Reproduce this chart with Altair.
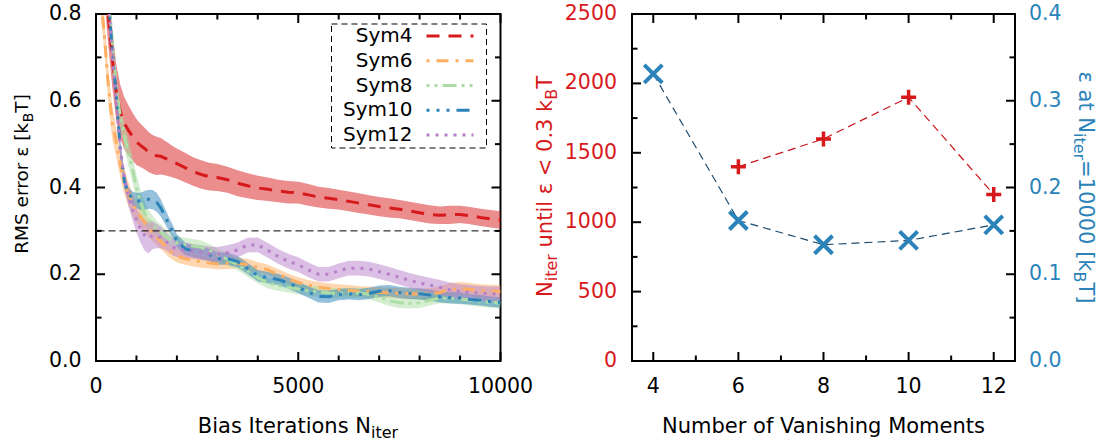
import altair as alt
import pandas as pd

FONT = "DejaVu Sans"
RED = "#d7191c"
BLUE = "#2b83ba"

# ---------------- data ----------------
names = ["Sym4", "Sym6", "Sym8", "Sym10", "Sym12"]
colors = ["#d7191c", "#fdae61", "#abdda4", "#2b83ba", "#b87fc9"]
dashes = [[13, 9], [3, 7, 12, 7], [3, 5, 3, 5, 14, 5], [3, 7, 3, 7, 3, 7, 13, 7], [3, 6]]

XS = [0, 100, 200, 300, 400, 500, 600, 700, 800, 900,
      1000, 1100, 1200, 1300, 1400, 1500, 1600, 1700, 1800, 1900,
      2000, 2200, 2400, 2600, 2800,
      3000, 3250, 3500, 3750,
      4000, 4250, 4500, 4750,
      5000, 5250, 5500, 5750,
      6000, 6250, 6500, 6750,
      7000, 7250, 7500, 7750,
      8000, 8250, 8500, 8750,
      9000, 9250, 9500, 9750,
      10000]

SYM4 = [1.20, 1.05, 0.92, 0.80, 0.70, 0.62, 0.575, 0.548, 0.532, 0.518,
        0.505, 0.497, 0.490, 0.482, 0.476, 0.473, 0.472, 0.468, 0.464, 0.459,
        0.455, 0.446, 0.437, 0.430, 0.425,
        0.423, 0.418, 0.410, 0.404,
        0.399, 0.396, 0.392, 0.389,
        0.388, 0.383, 0.378, 0.375,
        0.372, 0.368, 0.364, 0.360,
        0.356, 0.353, 0.350, 0.346,
        0.342, 0.338, 0.336, 0.337,
        0.338, 0.335, 0.331, 0.328,
        0.325]
SYM4_HW = [0.08, 0.08, 0.075, 0.07, 0.068, 0.065, 0.062, 0.06, 0.058, 0.055,
           0.053, 0.05, 0.048, 0.046, 0.045, 0.044, 0.042, 0.04, 0.038, 0.036,
           0.035, 0.034, 0.033, 0.033, 0.032,
           0.031, 0.03, 0.03, 0.029,
           0.028, 0.027, 0.026, 0.026,
           0.025, 0.025, 0.024, 0.024,
           0.023, 0.023, 0.023, 0.022,
           0.022, 0.022, 0.021, 0.021,
           0.021, 0.021, 0.02, 0.021,
           0.02, 0.02, 0.02, 0.02,
           0.02]

SYM6 = [0.95, 0.85, 0.76, 0.64, 0.55, 0.505, 0.455, 0.415, 0.385, 0.362,
        0.345, 0.332, 0.320, 0.307, 0.297, 0.286, 0.276, 0.266, 0.256, 0.248,
        0.242, 0.236, 0.232, 0.229, 0.226,
        0.224, 0.225, 0.226, 0.222,
        0.216, 0.210, 0.200, 0.190,
        0.181, 0.175, 0.170, 0.167,
        0.165, 0.163, 0.161, 0.160,
        0.158, 0.157, 0.156, 0.155,
        0.154, 0.155, 0.158, 0.165,
        0.167, 0.165, 0.162, 0.161,
        0.160]
SYM6_HW = [0.04, 0.04, 0.04, 0.04, 0.038, 0.035, 0.032, 0.03, 0.028, 0.026,
           0.025, 0.023, 0.022, 0.021, 0.02, 0.019, 0.018, 0.017, 0.016, 0.015,
           0.015, 0.014, 0.014, 0.014, 0.013,
           0.013, 0.013, 0.013, 0.013,
           0.012, 0.012, 0.012, 0.012,
           0.012, 0.012, 0.012, 0.012,
           0.012, 0.012, 0.012, 0.012,
           0.012, 0.012, 0.012, 0.012,
           0.012, 0.013, 0.014, 0.015,
           0.015, 0.015, 0.015, 0.015,
           0.015]

SYM8 = [1.20, 1.10, 0.98, 0.86, 0.74, 0.63, 0.565, 0.52, 0.48, 0.443,
        0.400, 0.366, 0.342, 0.326, 0.315, 0.305, 0.298, 0.290, 0.282, 0.276,
        0.272, 0.268, 0.265, 0.262, 0.255,
        0.246, 0.234, 0.222, 0.207,
        0.192, 0.180, 0.174, 0.170,
        0.166, 0.162, 0.160, 0.157,
        0.156, 0.157, 0.157, 0.154,
        0.147, 0.139, 0.134, 0.133,
        0.134, 0.140, 0.145, 0.144,
        0.143, 0.140, 0.137, 0.135,
        0.134]
SYM8_HW = [0.02, 0.02, 0.02, 0.02, 0.02, 0.022, 0.025, 0.028, 0.03, 0.03,
           0.03, 0.028, 0.025, 0.022, 0.02, 0.018, 0.017, 0.016, 0.016, 0.016,
           0.016, 0.016, 0.016, 0.016, 0.015,
           0.014, 0.014, 0.013, 0.013,
           0.013, 0.013, 0.012, 0.012,
           0.012, 0.012, 0.012, 0.012,
           0.012, 0.012, 0.012, 0.012,
           0.012, 0.012, 0.012, 0.012,
           0.012, 0.012, 0.012, 0.012,
           0.012, 0.012, 0.012, 0.012,
           0.012]

SYM10 = [1.30, 1.15, 1.00, 0.84, 0.72, 0.61, 0.49, 0.415, 0.385, 0.375,
         0.370, 0.368, 0.370, 0.373, 0.372, 0.366, 0.353, 0.335, 0.316, 0.298,
         0.277, 0.259, 0.253, 0.250, 0.245,
         0.236, 0.236, 0.229, 0.213,
         0.197, 0.192, 0.188, 0.180,
         0.170, 0.159, 0.149, 0.148,
         0.153, 0.155, 0.153, 0.156,
         0.161, 0.162, 0.158, 0.156,
         0.155, 0.152, 0.148, 0.146,
         0.145, 0.142, 0.140, 0.137,
         0.135]
SYM10_HW = [0.02, 0.02, 0.02, 0.02, 0.02, 0.02, 0.018, 0.016, 0.015, 0.016,
            0.018, 0.02, 0.022, 0.022, 0.022, 0.022, 0.02, 0.018, 0.016, 0.015,
            0.015, 0.014, 0.014, 0.014, 0.014,
            0.014, 0.014, 0.013, 0.013,
            0.013, 0.013, 0.013, 0.013,
            0.013, 0.013, 0.014, 0.014,
            0.013, 0.013, 0.013, 0.013,
            0.013, 0.013, 0.013, 0.013,
            0.013, 0.013, 0.013, 0.013,
            0.013, 0.012, 0.012, 0.012,
            0.012]

SYM12 = [1.30, 1.15, 1.00, 0.84, 0.71, 0.60, 0.49, 0.42, 0.38, 0.35,
         0.325, 0.305, 0.290, 0.283, 0.290, 0.288, 0.285, 0.279, 0.270, 0.263,
         0.258, 0.255, 0.253, 0.250, 0.247,
         0.246, 0.250, 0.256, 0.267,
         0.268, 0.255, 0.241, 0.230,
         0.222, 0.210, 0.200, 0.200,
         0.208, 0.214, 0.214, 0.212,
         0.206, 0.200, 0.193, 0.186,
         0.180, 0.175, 0.170, 0.164,
         0.160, 0.158, 0.156, 0.155,
         0.154]
SYM12_HW = [0.02, 0.02, 0.02, 0.02, 0.02, 0.02, 0.02, 0.02, 0.022, 0.025,
            0.028, 0.032, 0.035, 0.035, 0.032, 0.028, 0.025, 0.022, 0.02, 0.02,
            0.018, 0.017, 0.017, 0.017, 0.017,
            0.017, 0.017, 0.017, 0.017,
            0.017, 0.017, 0.017, 0.017,
            0.017, 0.017, 0.017, 0.017,
            0.017, 0.017, 0.017, 0.017,
            0.017, 0.017, 0.017, 0.017,
            0.017, 0.017, 0.017, 0.017,
            0.017, 0.017, 0.017, 0.017,
            0.017]

MOMENTS = [4, 6, 8, 10, 12]
EPS_END = [0.331, 0.162, 0.134, 0.139, 0.157]
RED_M = [6, 8, 10, 12]
N_UNTIL = [1400, 1600, 1900, 1200]

# tick values
LX_MAJOR = [0, 5000, 10000]
LX_MINOR = [1000, 2000, 3000, 4000, 6000, 7000, 8000, 9000]
LY_MAJOR = [0.0, 0.2, 0.4, 0.6, 0.8]
LY_MINOR = [0.1, 0.3, 0.5, 0.7]
RX_MAJOR = [4, 6, 8, 10, 12]
RX_MINOR = [5, 7, 9, 11]
RR_MAJOR = [0, 500, 1000, 1500, 2000, 2500]
RR_MINOR = [250, 750, 1250, 1750, 2250]
RB_MAJOR = [0.0, 0.1, 0.2, 0.3, 0.4]
RB_MINOR = [0.05, 0.15, 0.25, 0.35]

# ---------------- build tables ----------------
rows = []
for name, ys, hws in zip(names, [SYM4, SYM6, SYM8, SYM10, SYM12],
                         [SYM4_HW, SYM6_HW, SYM8_HW, SYM10_HW, SYM12_HW]):
    assert len(ys) == len(XS) == len(hws), name
    for x, y, h in zip(XS, ys, hws):
        rows.append({"series": name, "x": x, "y": y, "lo": y - h, "hi": y + h})
curves = pd.DataFrame(rows)

W_L, W_R, H = 404.5, 383, 347
MAJ, MIN = 9, 5.5
TICK_FS = 20.5

# DejaVu Sans advance widths (units of 1/2048 em)
ADV = {' ': 651, 'R': 1423, 'M': 1767, 'S': 1300, 'e': 1260, 'r': 842, 'o': 1253,
       'ε': 1100, '[': 799, 'k': 1186, 'B': 1405, 'T': 1251, ']': 799, 'i': 569,
       'a': 1255, 's': 1067, 'I': 604, 't': 803, 'n': 1298, 'N': 1532, 'u': 1298,
       'l': 569, '<': 1716, '0': 1303, '.': 651, '3': 1303, '=': 1716, '1': 1303}


def rich_text(segments, x, y, angle, color, size, subsize, subshift=5):
    widths = [sum(ADV.get(c, 1200) for c in t) / 2048 * (subsize if sub else size)
              for t, sub in segments]
    pos = -sum(widths) / 2
    layers = []
    for (t, sub), w in zip(segments, widths):
        fs = subsize if sub else size
        lead = (len(t) - len(t.lstrip(' '))) * ADV[' '] / 2048 * fs
        layers.append(
            alt.Chart(pd.DataFrame({"t": [t.strip()]}))
            .mark_text(align="left", baseline="alphabetic", angle=angle, dx=pos + lead,
                       dy=subshift if sub else 0, fontSize=fs, font=FONT, color=color)
            .encode(x=alt.value(x), y=alt.value(y), text="t:N")
        )
        pos += w
    return layers


def xticks(vals, scale, length):
    df = pd.DataFrame({"v": vals})
    base = alt.Chart(df).mark_rule(color="black", strokeWidth=2)
    bottom = base.encode(x=alt.X("v:Q", scale=scale, axis=None),
                         y=alt.value(H), y2=alt.value(H - length))
    top = base.encode(x=alt.X("v:Q", scale=scale, axis=None),
                      y=alt.value(0), y2=alt.value(length))
    return [bottom, top]


def yticks(vals, scale, length, x0, inward):
    df = pd.DataFrame({"v": vals})
    return (alt.Chart(df).mark_rule(color="black", strokeWidth=2)
            .encode(y=alt.Y("v:Q", scale=scale, axis=None),
                    x=alt.value(x0), x2=alt.value(x0 + inward * length)))


def xlabels(vals, scale, fmt):
    df = pd.DataFrame({"v": vals})
    return (alt.Chart(df).mark_text(align="center", baseline="middle", fontSize=TICK_FS,
                                    font=FONT, color="black")
            .encode(x=alt.X("v:Q", scale=scale, axis=None), y=alt.value(H + 26),
                    text=alt.Text("v:Q", format=fmt)))


def ylabels(vals, scale, fmt, x0, align, color):
    df = pd.DataFrame({"v": vals})
    return (alt.Chart(df).mark_text(align=align, baseline="middle", fontSize=TICK_FS,
                                    font=FONT, color=color)
            .encode(y=alt.Y("v:Q", scale=scale, axis=None), x=alt.value(x0),
                    text=alt.Text("v:Q", format=fmt)))


# ---------------- left panel ----------------
xs_l = alt.Scale(domain=[0, 10000], nice=False, zero=False)
ys_l = alt.Scale(domain=[0, 0.8], nice=False, zero=False)
col = alt.Color("series:N", scale=alt.Scale(domain=names, range=colors), legend=None)
dash = alt.StrokeDash("series:N", scale=alt.Scale(domain=names, range=dashes), legend=None)

bands = alt.Chart(curves).mark_area(opacity=0.5, clip=True).encode(
    x=alt.X("x:Q", scale=xs_l, axis=None),
    y=alt.Y("lo:Q", scale=ys_l, axis=None),
    y2="hi:Q",
    color=col,
    detail="series:N",
)
lines = alt.Chart(curves).mark_line(strokeWidth=3, clip=True).encode(
    x=alt.X("x:Q", scale=xs_l, axis=None),
    y=alt.Y("y:Q", scale=ys_l, axis=None),
    color=col,
    strokeDash=dash,
)
ref = alt.Chart(pd.DataFrame({"v": [0.3]})).mark_rule(
    color="black", strokeWidth=1, strokeDash=[7, 4]).encode(
    y=alt.Y("v:Q", scale=ys_l, axis=None))

left_layers = [bands, lines, ref]
left_layers += xticks(LX_MAJOR, xs_l, MAJ) + xticks(LX_MINOR, xs_l, MIN)
left_layers += [yticks(LY_MAJOR, ys_l, MAJ, 0, 1), yticks(LY_MINOR, ys_l, MIN, 0, 1),
                yticks(LY_MAJOR, ys_l, MAJ, W_L, -1), yticks(LY_MINOR, ys_l, MIN, W_L, -1)]
left_layers += [xlabels(LX_MAJOR, xs_l, "d"),
                ylabels(LY_MAJOR, ys_l, ".1f", -14.5, "right", "black")]
left_layers += rich_text([("Bias Iterations N", False), ("iter", True)],
                         202, 419, 0, "black", 21, 16)
left_layers += rich_text([("RMS error ε [k", False), ("B", True), ("T]", False)],
                         -67.8, 160, 270, "black", 18.5, 14)
main_left = alt.layer(*left_layers)

leg_df = pd.DataFrame({"series": names})
leg_y = alt.Y("series:N", scale=alt.Scale(type="point", domain=names, range=[22, 121], padding=0),
              axis=None)
box = alt.Chart(pd.DataFrame({"k": [0]})).mark_rect(
    fill="white", stroke="black", strokeWidth=1, strokeDash=[6, 4]).encode(
    x=alt.value(235.5), x2=alt.value(390.5), y=alt.value(10), y2=alt.value(134))
leg_lines = alt.Chart(leg_df).mark_rule(strokeWidth=3).encode(
    x=alt.value(330.5), x2=alt.value(377.5), y=leg_y, color=col, strokeDash=dash)
leg_text = alt.Chart(leg_df).mark_text(
    align="right", baseline="middle", fontSize=20, font=FONT, color="black").encode(
    x=alt.value(316.5), y=leg_y, text="series:N")
legend = alt.layer(box, leg_lines, leg_text)

left = alt.layer(main_left, legend).resolve_scale(y="independent").properties(
    width=W_L, height=H)

# ---------------- right panel ----------------
xs_r = alt.Scale(domain=[3.5, 12.5], nice=False, zero=False)
ys_red = alt.Scale(domain=[0, 2500], nice=False, zero=False)
ys_blue = alt.Scale(domain=[0, 0.4], nice=False, zero=False)
red_df = pd.DataFrame({"m": RED_M, "n": N_UNTIL})
blue_df = pd.DataFrame({"m": MOMENTS, "e": EPS_END})
PLUS = "M-1,0H1M0,-1V1"
CROSS = "M-1,-1L1,1M-1,1L1,-1"

red_line = alt.Chart(red_df).mark_line(color="#c8161b", strokeWidth=1.2, strokeDash=[8, 5]).encode(
    x=alt.X("m:Q", scale=xs_r, axis=None),
    y=alt.Y("n:Q", scale=ys_red, axis=None),
)
red_pts = alt.Chart(red_df).mark_point(
    shape=PLUS, filled=False, size=225, strokeWidth=3.5, color=RED, opacity=1).encode(
    x=alt.X("m:Q", scale=xs_r, axis=None), y=alt.Y("n:Q", scale=ys_red, axis=None))

red_layers = [red_line, red_pts]
red_layers += xticks(RX_MAJOR, xs_r, MAJ) + xticks(RX_MINOR, xs_r, MIN)
red_layers += [yticks(RR_MAJOR, ys_red, MAJ, 0, 1), yticks(RR_MINOR, ys_red, MIN, 0, 1)]
red_layers += [xlabels(RX_MAJOR, xs_r, "d"),
               ylabels(RR_MAJOR, ys_red, "d", -15, "right", RED)]
red_layers += rich_text([("N", False), ("iter", True), (" until ε < 0.3 k", False),
                         ("B", True), ("T", False)],
                        -80, 172.5, 270, RED, 21, 16)
xt = alt.Chart(pd.DataFrame({"t": ["Number of Vanishing Moments"]})).mark_text(
    align="center", baseline="alphabetic", fontSize=21, font=FONT, color="black").encode(
    x=alt.value(191.5), y=alt.value(419), text="t:N")
red_layers.append(xt)
red_group = alt.layer(*red_layers)

blue_line = alt.Chart(blue_df).mark_line(color="#1f4b6e", strokeWidth=1.2, strokeDash=[8, 5]).encode(
    x=alt.X("m:Q", scale=xs_r, axis=None),
    y=alt.Y("e:Q", scale=ys_blue, axis=None),
)
blue_pts = alt.Chart(blue_df).mark_point(
    shape=CROSS, filled=False, size=324, strokeWidth=4, color=BLUE, opacity=1).encode(
    x=alt.X("m:Q", scale=xs_r, axis=None), y=alt.Y("e:Q", scale=ys_blue, axis=None))
blue_layers = [blue_line, blue_pts,
               yticks(RB_MAJOR, ys_blue, MAJ, W_R, -1), yticks(RB_MINOR, ys_blue, MIN, W_R, -1),
               ylabels(RB_MAJOR, ys_blue, ".1f", W_R + 14, "left", BLUE)]
blue_layers += rich_text([("ε at N", False), ("iter", True), ("=10000 [k", False),
                          ("B", True), ("T]", False)],
                         447, 173.5, 90, BLUE, 21, 16)
blue_group = alt.layer(*blue_layers)

right = alt.layer(red_group, blue_group).resolve_scale(y="independent").properties(
    width=W_R, height=H)

chart = (
    alt.hconcat(left, right, spacing=131, bounds="flush")
    .properties(padding={"left": 12, "top": 3, "right": 5, "bottom": 0})
    .configure_view(stroke="black", strokeWidth=2)
)

chart.save("out.html", embed_options={"renderer": "svg", "actions": False})
